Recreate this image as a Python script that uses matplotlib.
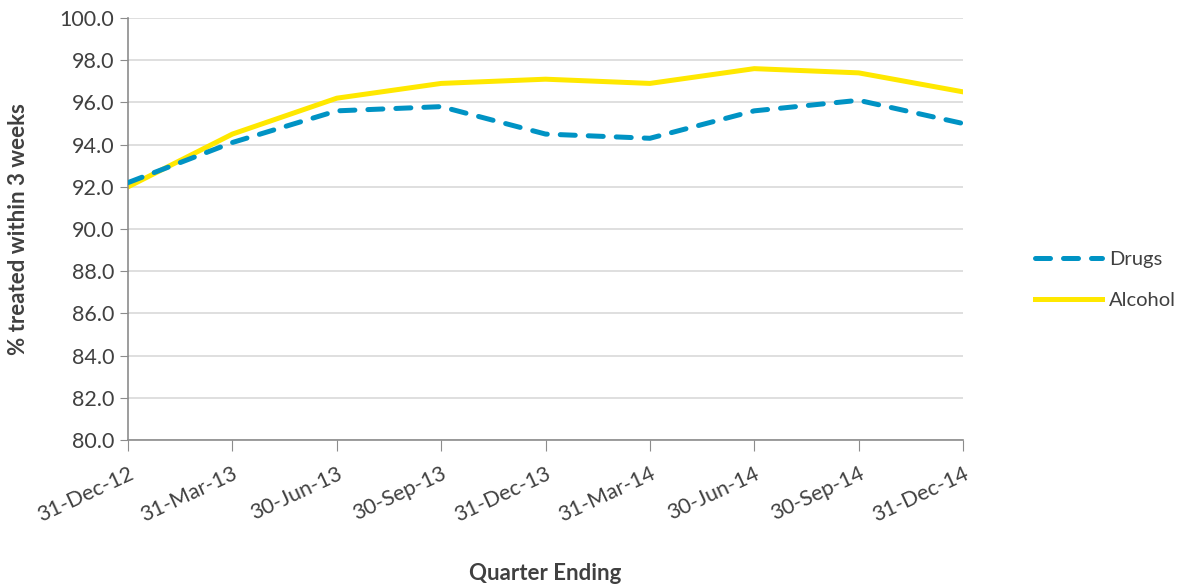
import numpy as np
import matplotlib.pyplot as plt

# Quarterly % treated within 3 weeks
quarters = ["31-Dec-12", "31-Mar-13", "30-Jun-13", "30-Sep-13", "31-Dec-13",
            "31-Mar-14", "30-Jun-14", "30-Sep-14", "31-Dec-14"]
drugs = [92.2, 94.1, 95.6, 95.8, 94.5, 94.3, 95.6, 96.1, 95.0]
alcohol = [92.0, 94.5, 96.2, 96.9, 97.1, 96.9, 97.6, 97.4, 96.5]

plt.rcParams["font.family"] = ["Lato", "DejaVu Sans"]

fig = plt.figure(figsize=(11.79, 5.86), dpi=100)
ax = fig.add_axes([0.1086, 0.249, 0.7082, 0.7203])

x = np.arange(len(quarters))
ax.plot(x, drugs, color="#0093C4", lw=3.6, ls=(0, (3.0, 2.6)),
        dash_capstyle="round", label="Drugs", zorder=3)
ax.plot(x, alcohol, color="#FFE800", lw=3.6, label="Alcohol", zorder=2)

ax.set_xlim(0, len(quarters) - 1)
ax.set_ylim(80, 100)
ax.set_yticks(np.arange(80, 100.1, 2))
ax.set_yticklabels([f"{v:.1f}" for v in np.arange(80, 100.1, 2)])
ax.set_xticks(x)
ax.set_xticklabels(quarters, rotation=25, ha="right", rotation_mode="anchor")

ax.grid(axis="y", color="#d9d9d9", lw=1.2)
ax.set_axisbelow(True)
for s in ["top", "right"]:
    ax.spines[s].set_visible(False)
for s in ["left", "bottom"]:
    ax.spines[s].set_color("#8c8c8c")
    ax.spines[s].set_linewidth(1.2)
ax.tick_params(axis="y", length=6, color="#8c8c8c", labelsize=15.5,
               labelcolor="#404040", pad=4)
ax.tick_params(axis="x", length=8, color="#8c8c8c", labelsize=15.5,
               labelcolor="#404040", pad=9)

ax.set_ylabel("% treated within 3 weeks", fontsize=16, fontweight="bold",
              color="#404040", va="center")
ax.yaxis.set_label_coords(-0.1317, 0.5)
ax.set_xlabel("Quarter Ending", fontsize=16, fontweight="bold",
              color="#404040", va="center")
ax.xaxis.set_label_coords(0.5, -0.315)

leg = ax.legend(loc="center left", bbox_to_anchor=(1.065, 0.379), frameon=False,
                fontsize=14.5, handlelength=3.3, labelspacing=1.16,
                handletextpad=0.35)
for t in leg.get_texts():
    t.set_color("#404040")

fig.savefig("out.png", dpi=100)
